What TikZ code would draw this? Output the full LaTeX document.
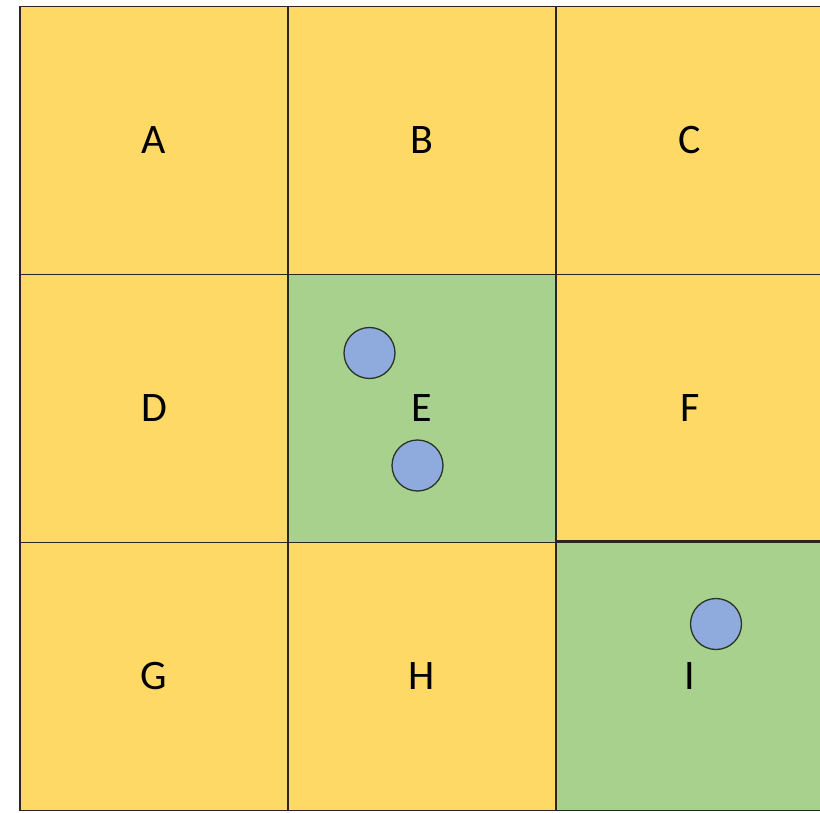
\documentclass[tikz,border=0pt]{standalone}
\usepackage{fontspec}
\setmainfont{Carlito}
\definecolor{cellyellow}{HTML}{FFD966}
\definecolor{cellgreen}{HTML}{A9D18E}
\definecolor{dotblue}{HTML}{8FAADC}
\definecolor{gridline}{HTML}{2B2622}
\begin{document}
\begin{tikzpicture}[x=1pt,y=-1pt,
  cell/.style={draw=gridline,line width=1.6pt,minimum width=268pt,minimum height=268pt,inner sep=0pt,
    font=\fontsize{42}{50}\selectfont,text=black},
  yel/.style={cell,fill=cellyellow},
  grn/.style={cell,fill=cellgreen},
  dot/.style={circle,draw=black!75!cellgreen,line width=1.3pt,fill=dotblue,minimum size=51pt,inner sep=0pt}]
\useasboundingbox (0,0) rectangle (820,813);
\node[yel] (A) at (154,140.5) {A};
\node[yel] (B) at (422,140.5) {B};
\node[yel] (C) at (690,140.5) {C};
\node[yel] (D) at (154,408.5) {D};
\node[grn] (E) at (422,408.5) {E};
\node[yel] (F) at (690,408.5) {F};
\node[yel] (G) at (154,676.5) {G};
\node[yel] (H) at (422,676.5) {H};
\node[grn] (I) at (690,676.5) {I};
\draw[gridline,line width=2.6pt] (I.north west) -- (I.north east);
\node[dot] (e1) at (369.5,353) {};
\node[dot] (e2) at (417.5,465.5) {};
\node[dot] (i1) at (716,624) {};
\end{tikzpicture}
\end{document}
